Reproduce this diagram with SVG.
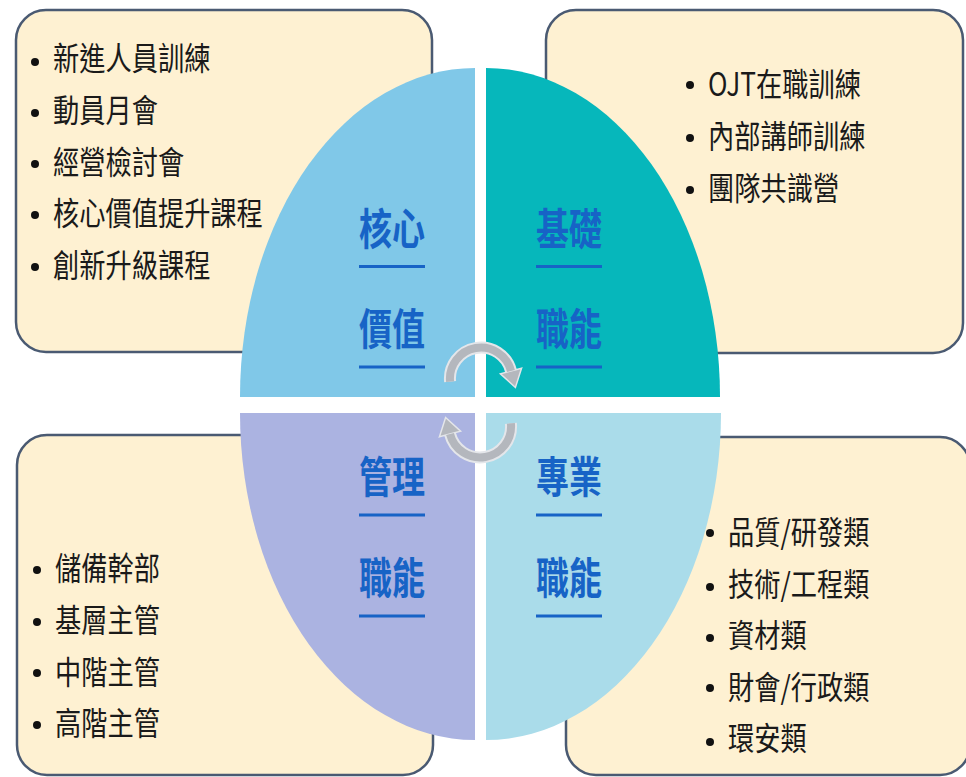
<svg xmlns="http://www.w3.org/2000/svg" width="966" height="777" viewBox="0 0 966 777">
<style>
.box{fill:#fef1d2;stroke:#4a5a72;stroke-width:2.5}
.li{font-family:"Noto Sans CJK TC","Noto Sans CJK SC",sans-serif;font-size:32px;fill:#1a1a1a}
.lb{font-family:"Noto Sans CJK TC","Noto Sans CJK SC",sans-serif;font-size:43px;font-weight:bold;fill:#1763c6}
.ul{stroke:#1763c6;stroke-width:3}
.bul{fill:#111}
.arcO{fill:none;stroke:#e4e6ea;stroke-width:12}
.arcI{fill:none;stroke:#b4b7bd;stroke-width:8}
.head{fill:#b4b7bd;stroke:#e4e6ea;stroke-width:1.5}
</style>
<rect width="966" height="777" fill="#ffffff"/>
<g id="box-tl"><rect class="box" x="16" y="10" width="416" height="342" rx="30"/>
<g class="bul"><circle cx="35" cy="62" r="4"/><circle cx="35" cy="113" r="4"/><circle cx="35" cy="164" r="4"/><circle cx="35" cy="215" r="4"/><circle cx="35" cy="267" r="4"/></g>
<g transform="translate(53 0) scale(0.82 1)"><text class="li" x="0" y="70.5">新進人員訓練</text><text class="li" x="0" y="122">動員月會</text><text class="li" x="0" y="174">經營檢討會</text><text class="li" x="0" y="225.5">核心價值提升課程</text><text class="li" x="0" y="277">創新升級課程</text></g>
</g>
<g id="box-tr"><rect class="box" x="546" y="10" width="417" height="343" rx="30"/>
<g class="bul"><circle cx="690" cy="85" r="4"/><circle cx="690" cy="138" r="4"/><circle cx="690" cy="190" r="4"/></g>
<g transform="translate(708 0) scale(0.82 1)"><text class="li" x="0" y="96">OJT在職訓練</text><text class="li" x="0" y="148">內部講師訓練</text><text class="li" x="0" y="200">團隊共識營</text></g>
</g>
<g id="box-bl"><rect class="box" x="17" y="435" width="416" height="340" rx="30"/>
<g class="bul"><circle cx="37" cy="570" r="4"/><circle cx="37" cy="622" r="4"/><circle cx="37" cy="673" r="4"/><circle cx="37" cy="725" r="4"/></g>
<g transform="translate(55 0) scale(0.82 1)"><text class="li" x="0" y="580.5">儲備幹部</text><text class="li" x="0" y="632">基層主管</text><text class="li" x="0" y="684">中階主管</text><text class="li" x="0" y="735.5">高階主管</text></g>
</g>
<g id="box-br"><rect class="box" x="566" y="437" width="404" height="338" rx="30"/>
<g class="bul"><circle cx="710" cy="533" r="4"/><circle cx="710" cy="587" r="4"/><circle cx="710" cy="638" r="4"/><circle cx="710" cy="688" r="4"/><circle cx="710" cy="742" r="4"/></g>
<g transform="translate(728 0) scale(0.82 1)"><text class="li" x="0" y="544.5">品質/研發類</text><text class="li" x="0" y="596">技術/工程類</text><text class="li" x="0" y="647">資材類</text><text class="li" x="0" y="699">財會/行政類</text><text class="li" x="0" y="750">環安類</text></g>
</g>
<g id="q-core"><path d="M475,397 L240,397 A235,329 0 0 1 475,68 Z" fill="#80c8e8"/>
<text class="lb" x="359" y="245" textLength="66" lengthAdjust="spacingAndGlyphs">核心</text><line class="ul" x1="359" y1="266.5" x2="425" y2="266.5"/>
<text class="lb" x="359" y="345" textLength="66" lengthAdjust="spacingAndGlyphs">價值</text><line class="ul" x1="359" y1="367" x2="425" y2="367"/></g>
<g id="q-basic"><path d="M486,397 L486,68 A234,329 0 0 1 720,397 Z" fill="#06b7bb"/>
<text class="lb" x="536" y="245" textLength="66" lengthAdjust="spacingAndGlyphs">基礎</text><line class="ul" x1="536" y1="266.5" x2="602" y2="266.5"/>
<text class="lb" x="536" y="345" textLength="66" lengthAdjust="spacingAndGlyphs">職能</text><line class="ul" x1="536" y1="367" x2="602" y2="367"/></g>
<g id="q-mgmt"><path d="M475,413 L475,740 A235,327 0 0 1 240,413 Z" fill="#abb3e1"/>
<text class="lb" x="359" y="493" textLength="66" lengthAdjust="spacingAndGlyphs">管理</text><line class="ul" x1="359" y1="515" x2="425" y2="515"/>
<text class="lb" x="359" y="594" textLength="66" lengthAdjust="spacingAndGlyphs">職能</text><line class="ul" x1="359" y1="616" x2="425" y2="616"/></g>
<g id="q-pro"><path d="M486,413 L721,413 A235,327 0 0 1 486,740 Z" fill="#aadcea"/>
<text class="lb" x="536" y="493" textLength="66" lengthAdjust="spacingAndGlyphs">專業</text><line class="ul" x1="536" y1="515" x2="602" y2="515"/>
<text class="lb" x="536" y="594" textLength="66" lengthAdjust="spacingAndGlyphs">職能</text><line class="ul" x1="536" y1="616" x2="602" y2="616"/></g>
<g id="connectors">
<path class="arcO" d="M450.1,381.7 A31,31 0 0 1 511,371"/>
<path class="arcO" d="M510.9,423.3 A31,31 0 0 1 450,434"/>
<polygon class="head" points="521.6,368.2 500.4,373.8 515.4,387.5"/>
<polygon class="head" points="439.4,436.8 460.6,431.2 445.6,417.5"/>
<path class="arcI" d="M450.1,381.7 A31,31 0 0 1 511,371"/>
<path class="arcI" d="M510.9,423.3 A31,31 0 0 1 450,434"/>
</g>
</svg>
